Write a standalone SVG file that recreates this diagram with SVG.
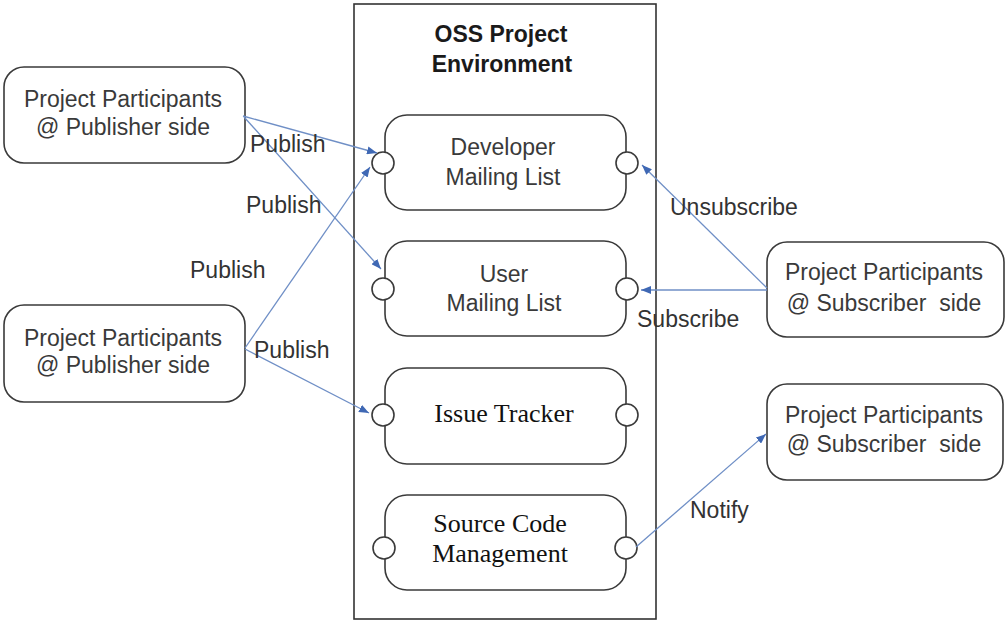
<svg xmlns="http://www.w3.org/2000/svg" width="1006" height="623" viewBox="0 0 1006 623">
  <style>
    .frame { fill: none; stroke: #333; stroke-width: 1.6; }
    .box { fill: #fff; stroke: #3a3a3a; stroke-width: 1.6; }
    .port { fill: #fff; stroke: #3a3a3a; stroke-width: 1.6; }
    .sans { font-family: "Liberation Sans", Arial, sans-serif; font-size: 23px; fill: #3a3a3a; }
    .title { font-family: "Liberation Sans", Arial, sans-serif; font-size: 23px; font-weight: bold; fill: #1a1a1a; }
    .serif { font-family: "Liberation Serif", "Times New Roman", serif; font-size: 26px; fill: #111; }
    .link { fill: none; stroke: #6f8fc6; stroke-width: 1.3; marker-end: url(#arrow); }
    .label { font-family: "Liberation Sans", Arial, sans-serif; font-size: 23px; fill: #333; }
  </style>
  <defs>
    <marker id="arrow" markerUnits="userSpaceOnUse" markerWidth="11" markerHeight="8" refX="10" refY="4" orient="auto">
      <path d="M0,0 L10,4 L0,8 z" fill="#3f68b4"/>
    </marker>
  </defs>

  <rect width="1006" height="623" fill="#fff"/>

  <!-- environment frame -->
  <g id="environment">
    <rect class="frame" x="354" y="4" width="302" height="615"/>
    <text class="title" x="501" y="42" text-anchor="middle">OSS Project</text>
    <text class="title" x="502" y="72" text-anchor="middle">Environment</text>
  </g>

  <!-- services inside the environment -->
  <g id="dev-list">
    <rect class="box" x="385" y="115" width="241" height="95" rx="22"/>
    <circle class="port" cx="383" cy="163" r="11"/>
    <circle class="port" cx="627" cy="163" r="11"/>
    <text class="sans" x="503" y="155" text-anchor="middle">Developer</text>
    <text class="sans" x="503" y="185" text-anchor="middle">Mailing List</text>
  </g>

  <g id="user-list">
    <rect class="box" x="385" y="241" width="241" height="95" rx="22"/>
    <circle class="port" cx="383" cy="289" r="11"/>
    <circle class="port" cx="627" cy="289" r="11"/>
    <text class="sans" x="504" y="282" text-anchor="middle">User</text>
    <text class="sans" x="504" y="311" text-anchor="middle">Mailing List</text>
  </g>

  <g id="issue-tracker">
    <rect class="box" x="385" y="368" width="241" height="96" rx="22"/>
    <circle class="port" cx="383" cy="415" r="11"/>
    <circle class="port" cx="627" cy="415" r="11"/>
    <text class="serif" x="504" y="422" text-anchor="middle">Issue Tracker</text>
  </g>

  <g id="scm">
    <rect class="box" x="385" y="495" width="241" height="95" rx="22"/>
    <circle class="port" cx="384" cy="548" r="11"/>
    <circle class="port" cx="626" cy="548" r="11"/>
    <text class="serif" x="500" y="532" text-anchor="middle">Source Code</text>
    <text class="serif" x="500" y="562" text-anchor="middle">Management</text>
  </g>

  <!-- participants -->
  <g id="publisher-1">
    <rect class="box" x="4" y="67" width="241" height="96" rx="20"/>
    <text class="sans" x="123" y="107" text-anchor="middle">Project Participants</text>
    <text class="sans" x="123" y="135" text-anchor="middle">@ Publisher side</text>
  </g>

  <g id="publisher-2">
    <rect class="box" x="4" y="305" width="241" height="97" rx="20"/>
    <text class="sans" x="123" y="346" text-anchor="middle">Project Participants</text>
    <text class="sans" x="123" y="373" text-anchor="middle">@ Publisher side</text>
  </g>

  <g id="subscriber-1">
    <rect class="box" x="767" y="242" width="237" height="95" rx="20"/>
    <text class="sans" x="884" y="280" text-anchor="middle">Project Participants</text>
    <text class="sans" x="884" y="311" text-anchor="middle" xml:space="preserve">@ Subscriber  side</text>
  </g>

  <g id="subscriber-2">
    <rect class="box" x="767" y="384" width="236" height="96" rx="20"/>
    <text class="sans" x="884" y="423" text-anchor="middle">Project Participants</text>
    <text class="sans" x="884" y="452" text-anchor="middle" xml:space="preserve">@ Subscriber  side</text>
  </g>

  <!-- message flows -->
  <g id="connectors">
    <line class="link" x1="243" y1="116" x2="377" y2="153"/>
    <line class="link" x1="244" y1="117" x2="381" y2="269"/>
    <line class="link" x1="245" y1="348" x2="370" y2="167"/>
    <line class="link" x1="245" y1="349" x2="369" y2="413"/>
    <line class="link" x1="767" y1="288" x2="642" y2="165"/>
    <line class="link" x1="767" y1="290" x2="641" y2="290"/>
    <line class="link" x1="636" y1="547" x2="766" y2="434"/>
  </g>

  <g id="connector-labels">
    <text class="label" x="250" y="152">Publish</text>
    <text class="label" x="246" y="213">Publish</text>
    <text class="label" x="190" y="278">Publish</text>
    <text class="label" x="254" y="358">Publish</text>
    <text class="label" x="670" y="215">Unsubscribe</text>
    <text class="label" x="637" y="327">Subscribe</text>
    <text class="label" x="690" y="518">Notify</text>
  </g>
</svg>
